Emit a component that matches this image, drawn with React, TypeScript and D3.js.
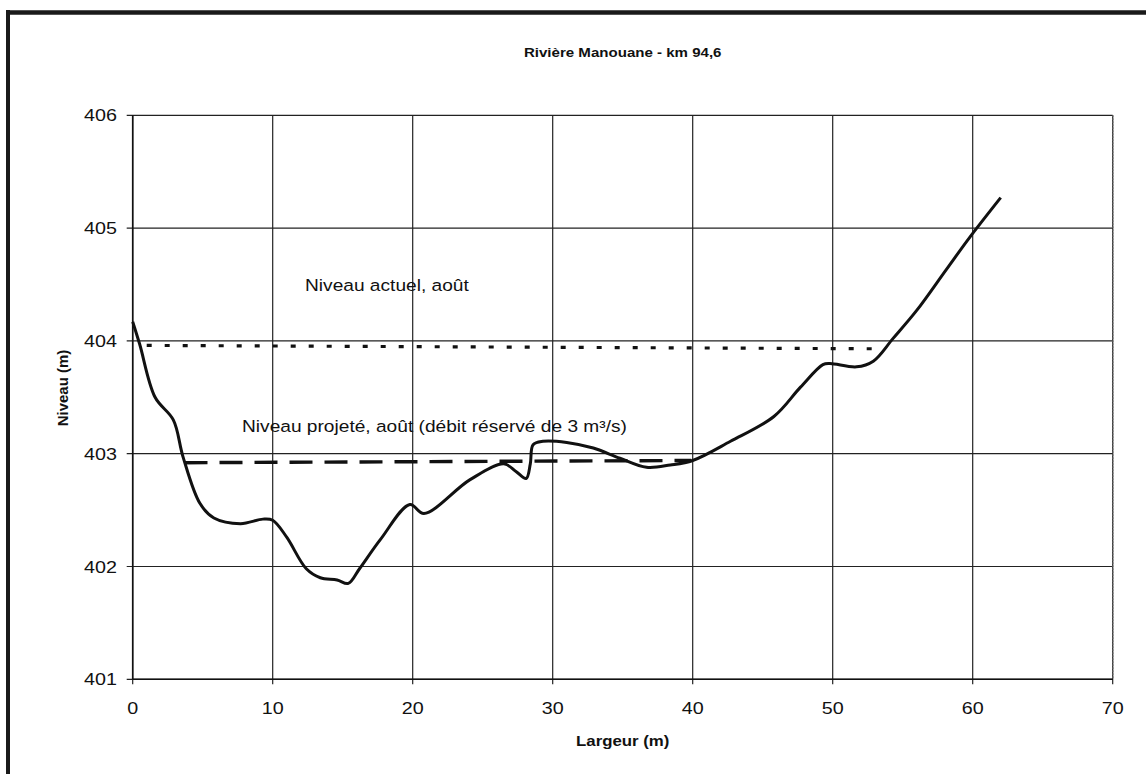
import React from "react";
import * as d3 from "d3";

const title = "Rivière Manouane - km 94,6";
const xLabel = "Largeur (m)";
const yLabel = "Niveau (m)";
const xTicks = [0, 10, 20, 30, 40, 50, 60, 70];
const yTicks = [401, 402, 403, 404, 405, 406];

const profileX = [0, 0.5, 1.6, 2.9, 3.6, 4.8, 5.8, 7.7, 9.3, 10.0, 11.0, 12.4, 13.4, 14.6, 15.4, 16.2, 17.7, 19.8, 20.8, 24.1, 26.5, 27.4, 28.1, 28.4, 28.6, 29.3, 31.0, 32.9, 34.8, 36.7, 38.4, 40.0, 42.7, 45.8, 47.7, 49.3, 49.8, 51.7, 52.9, 54.3, 56.0, 58.1, 59.8, 62.0];
const profileY = [404.17, 403.97, 403.5, 403.3, 402.97, 402.56, 402.43, 402.38, 402.42, 402.41, 402.26, 401.98, 401.9, 401.88, 401.85, 401.98, 402.24, 402.55, 402.47, 402.77, 402.91, 402.84, 402.78, 402.91, 403.08, 403.11, 403.1, 403.05, 402.96, 402.88, 402.9, 402.94, 403.11, 403.33, 403.59, 403.79, 403.8, 403.77, 403.82, 404.02, 404.27, 404.63, 404.92, 405.27];

const actuelX = [1.0, 53.5];
const actuelY = [403.96, 403.93];
const projeteX = [3.7, 39.9];
const projeteY = [402.92, 402.94];

const actuelLabel = "Niveau actuel, août";
const projeteLabel = "Niveau projeté, août (débit réservé de 3 m³/s)";

const W = 1146;
const H = 774;
const left = 132.7;
const right = 1112.7;
const top = 115.3;
const bottom = 679.3;
const SX = 1.16;
const FONT = "'Liberation Sans', Arial, sans-serif";

function T({ x, y, size, bold, anchor, children, rotate }: any) {
  const tr = rotate
    ? `translate(${x},${y}) rotate(-90)`
    : `translate(${x},${y}) scale(${SX},1)`;
  return (
    <text
      transform={tr}
      fontSize={size}
      fontWeight={bold ? "bold" : "normal"}
      textAnchor={anchor || "start"}
      dominantBaseline="central"
      fontFamily={FONT}
      fill="#111"
    >
      {children}
    </text>
  );
}

export default function App() {
  const x = d3.scaleLinear().domain([0, 70]).range([left, right]);
  const y = d3.scaleLinear().domain([401, 406]).range([bottom, top]);

  const profile = profileX.map((v, i) => [v, profileY[i]] as [number, number]);
  const line = d3
    .line<[number, number]>()
    .x((d) => x(d[0]))
    .y((d) => y(d[1]))
    .curve(d3.curveCatmullRom.alpha(0.5));
  const straight = d3
    .line<[number, number]>()
    .x((d) => x(d[0]))
    .y((d) => y(d[1]));

  const actuel = actuelX.map((v, i) => [v, actuelY[i]] as [number, number]);
  const projete = projeteX.map((v, i) => [v, projeteY[i]] as [number, number]);

  return (
    <svg
      width={W}
      height={H}
      style={{ position: "absolute", left: 0, top: 0, background: "#fff" }}
    >
      <rect x={0} y={0} width={W} height={H} fill="#fff" />
      {/* outer frame (top & left heavy) */}
      <line x1={6} x2={W} y1={12.5} y2={12.5} stroke="#1a1a1a" strokeWidth={4.5} />
      <line x1={8} x2={8} y1={10} y2={H} stroke="#1a1a1a" strokeWidth={4} />

      {/* grid */}
      {xTicks.map((t) => (
        <line key={"gx" + t} x1={x(t)} x2={x(t)} y1={top} y2={bottom + 5} stroke="#222" strokeWidth={1.2} />
      ))}
      {yTicks.map((t) => (
        <line key={"gy" + t} x1={left - 6} x2={right} y1={y(t)} y2={y(t)} stroke="#222" strokeWidth={1.2} />
      ))}
      <line x1={left} x2={left} y1={top} y2={bottom} stroke="#111" strokeWidth={1.6} />
      <line x1={left} x2={right} y1={bottom} y2={bottom} stroke="#111" strokeWidth={1.6} />
      <line x1={right} x2={right} y1={top} y2={bottom} stroke="#555" strokeWidth={1.4} strokeDasharray="2 1" />

      {/* tick labels */}
      {yTicks.map((t) => (
        <T key={"ly" + t} x={117} y={y(t)} size={17} anchor="end">
          {t}
        </T>
      ))}
      {xTicks.map((t) => (
        <T key={"lx" + t} x={x(t)} y={708} size={17} anchor="middle">
          {t}
        </T>
      ))}

      {/* series */}
      <path d={straight(actuel) || ""} fill="none" stroke="#111" strokeWidth={3.2} strokeDasharray="5 13" />
      <path d={straight(projete) || ""} fill="none" stroke="#111" strokeWidth={3.4} strokeDasharray="23 12" />
      <path d={line(profile) || ""} fill="none" stroke="#111" strokeWidth={3} strokeLinejoin="round" />

      {/* annotations */}
      <T x={305} y={285} size={16.5}>{actuelLabel}</T>
      <T x={242} y={426} size={16.5}>{projeteLabel}</T>

      {/* titles */}
      <T x={(left + right) / 2} y={52} size={13} bold anchor="middle">{title}</T>
      <T x={(left + right) / 2} y={741} size={14.5} bold anchor="middle">{xLabel}</T>
      <T x={62} y={388} size={15} bold anchor="middle" rotate>{yLabel}</T>
    </svg>
  );
}
